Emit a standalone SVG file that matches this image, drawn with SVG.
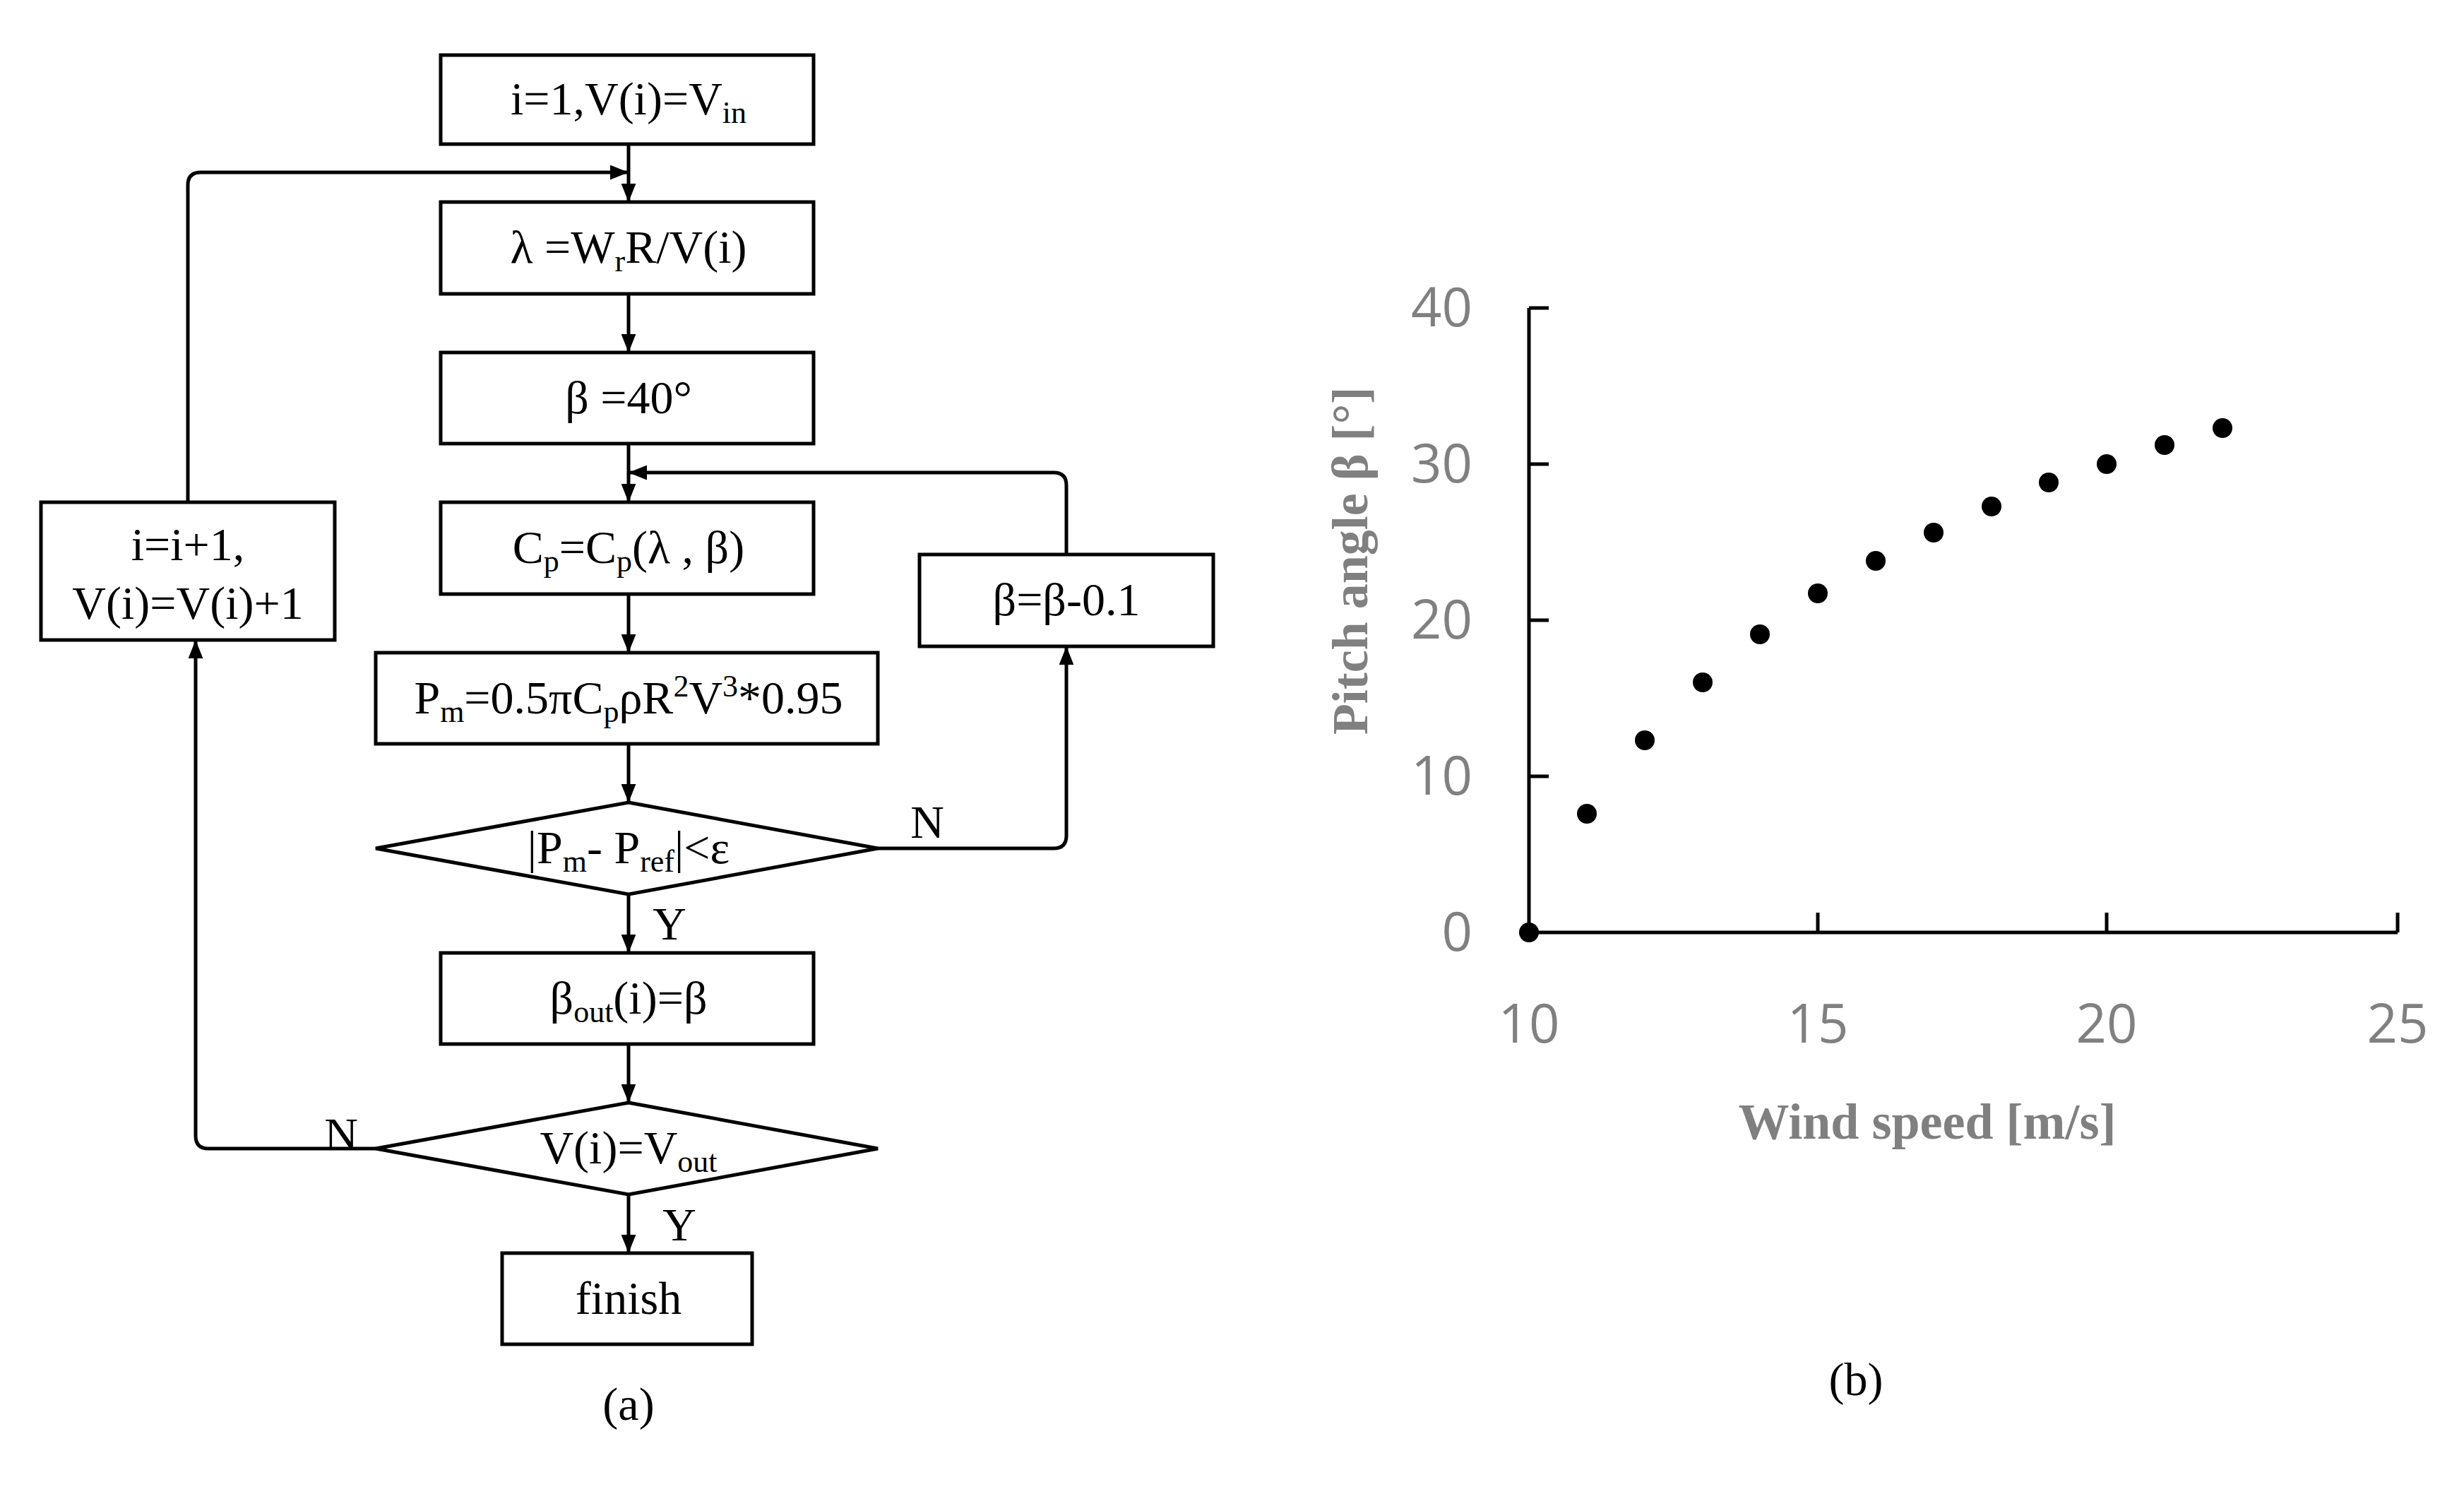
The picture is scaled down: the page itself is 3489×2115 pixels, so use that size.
<svg xmlns="http://www.w3.org/2000/svg" width="3489" height="2115" viewBox="0 0 3489 2115">
<style>
.n{fill:#fff;stroke:#000;stroke-width:5}
.t{font-family:"Liberation Serif",serif;font-size:66px;text-anchor:middle;fill:#000}
.c{fill:none;stroke:#000;stroke-width:5}
.g{font-family:"Open Sans","Liberation Sans",sans-serif;font-size:76px;fill:#808080}
.gt{font-family:"Liberation Serif",serif;font-weight:bold;font-size:72px;fill:#808080;text-anchor:middle}
</style>
<defs><marker id="a" markerWidth="10" markerHeight="8" refX="10" refY="4" orient="auto" markerUnits="userSpaceOnUse" viewBox="0 0 10 8"><path d="M0,0L10,4L0,8z"/></marker>
<marker id="ah" viewBox="0 0 10 8" refX="10" refY="4" markerWidth="26" markerHeight="21" orient="auto" markerUnits="userSpaceOnUse"><path d="M0,0L10,4L0,8z" fill="#000"/></marker></defs>
<rect width="3489" height="2115" fill="#fff"/>
<g id="connectors">
<path class="c" d="M890,204V286" marker-end="url(#ah)"/>
<path class="c" d="M266,711V262Q266,244 284,244H890" marker-end="url(#ah)"/>
<path class="c" d="M890,416V499" marker-end="url(#ah)"/>
<path class="c" d="M890,628V711" marker-end="url(#ah)"/>
<path class="c" d="M1510,785V687Q1510,669 1492,669H890" marker-end="url(#ah)"/>
<path class="c" d="M890,841V924" marker-end="url(#ah)"/>
<path class="c" d="M890,1053V1136" marker-end="url(#ah)"/>
<path class="c" d="M1243,1201H1492Q1510,1201 1510,1183V915" marker-end="url(#ah)"/>
<path class="c" d="M890,1266V1349" marker-end="url(#ah)"/>
<path class="c" d="M890,1478V1561" marker-end="url(#ah)"/>
<path class="c" d="M532,1626H295Q277,1626 277,1608V906" marker-end="url(#ah)"/>
<path class="c" d="M890,1691V1774" marker-end="url(#ah)"/>
<text class="t" x="1313" y="1186">N</text>
<text class="t" x="948" y="1330">Y</text>
<text class="t" x="483" y="1628">N</text>
<text class="t" x="962" y="1756">Y</text>
</g>
<g id="n1"><rect class="n" x="624" y="78" width="528" height="126"/><text class="t" x="890" y="162">i=1,V(i)=V<tspan font-size="44" dy="12">in</tspan></text></g>
<g id="n2"><rect class="n" x="624" y="286" width="528" height="130"/><text class="t" x="890" y="372">λ =W<tspan font-size="44" dy="12">r</tspan><tspan dy="-12">R/V(i)</tspan></text></g>
<g id="n3"><rect class="n" x="624" y="499" width="528" height="129"/><text class="t" x="890" y="585">β =40°</text></g>
<g id="n4"><rect class="n" x="624" y="711" width="528" height="130"/><text class="t" x="890" y="797">C<tspan font-size="44" dy="12">p</tspan><tspan dy="-12">=C</tspan><tspan font-size="44" dy="12">p</tspan><tspan dy="-12">(λ , β)</tspan></text></g>
<g id="n5"><rect class="n" x="532" y="924" width="711" height="129"/><text class="t" x="890" y="1010">P<tspan font-size="44" dy="12">m</tspan><tspan dy="-12">=0.5πC</tspan><tspan font-size="44" dy="12">p</tspan><tspan dy="-12">ρR</tspan><tspan font-size="44" dy="-24">2</tspan><tspan dy="24">V</tspan><tspan font-size="44" dy="-24">3</tspan><tspan dy="24">*0.95</tspan></text></g>
<g id="d1"><path class="n" d="M890,1136L1243,1201L890,1266L532,1201z"/><text class="t" x="890" y="1222">|P<tspan font-size="44" dy="12">m</tspan><tspan dy="-12">- P</tspan><tspan font-size="44" dy="12">ref</tspan><tspan dy="-12">|&lt;ε</tspan></text></g>
<g id="n6"><rect class="n" x="624" y="1349" width="528" height="129"/><text class="t" x="890" y="1435">β<tspan font-size="44" dy="12">out</tspan><tspan dy="-12">(i)=β</tspan></text></g>
<g id="d2"><path class="n" d="M890,1561L1243,1626L890,1691L532,1626z"/><text class="t" x="890" y="1647">V(i)=V<tspan font-size="44" dy="12">out</tspan></text></g>
<g id="n7"><rect class="n" x="711" y="1774" width="354" height="129"/><text class="t" x="890" y="1860">finish</text></g>
<g id="n8"><rect class="n" x="58" y="711" width="416" height="195"/><text class="t" x="266" y="793">i=i+1,</text><text class="t" x="266" y="876">V(i)=V(i)+1</text></g>
<g id="n9"><rect class="n" x="1302" y="785" width="416" height="130"/><text class="t" x="1510" y="871">β=β-0.1</text></g>
<text class="t" x="890" y="2010" font-size="80">(a)</text>
<g id="chart">
<path class="c" d="M2165,436V1320H3395M2165,436h28M2165,657h28M2165,878h28M2165,1099h28M2574,1320v-28M2983,1320v-28M3395,1320v-28"/>
<g class="g" text-anchor="end"><text x="2085" y="462">40</text><text x="2085" y="683">30</text><text x="2085" y="904">20</text><text x="2085" y="1125">10</text><text x="2085" y="1346">0</text></g>
<g class="g" text-anchor="middle"><text x="2165" y="1476">10</text><text x="2574" y="1476">15</text><text x="2983" y="1476">20</text><text x="3395" y="1476">25</text></g>
<text class="gt" x="2729" y="1612">Wind speed [m/s]</text>
<text class="gt" transform="translate(1912,794) rotate(-90)" y="24">Pitch angle β [°]</text>
<g fill="#000"><circle cx="2165" cy="1320" r="14"/><circle cx="2247" cy="1152" r="14"/><circle cx="2329" cy="1048" r="14"/><circle cx="2411" cy="966" r="14"/><circle cx="2492" cy="898" r="14"/><circle cx="2574" cy="840" r="14"/><circle cx="2656" cy="794" r="14"/><circle cx="2738" cy="754" r="14"/><circle cx="2820" cy="717" r="14"/><circle cx="2901" cy="683" r="14"/><circle cx="2983" cy="657" r="14"/><circle cx="3065" cy="630" r="14"/><circle cx="3147" cy="606" r="14"/></g>
</g>
<text class="t" x="2628" y="1975" font-size="80">(b)</text>
</svg>
